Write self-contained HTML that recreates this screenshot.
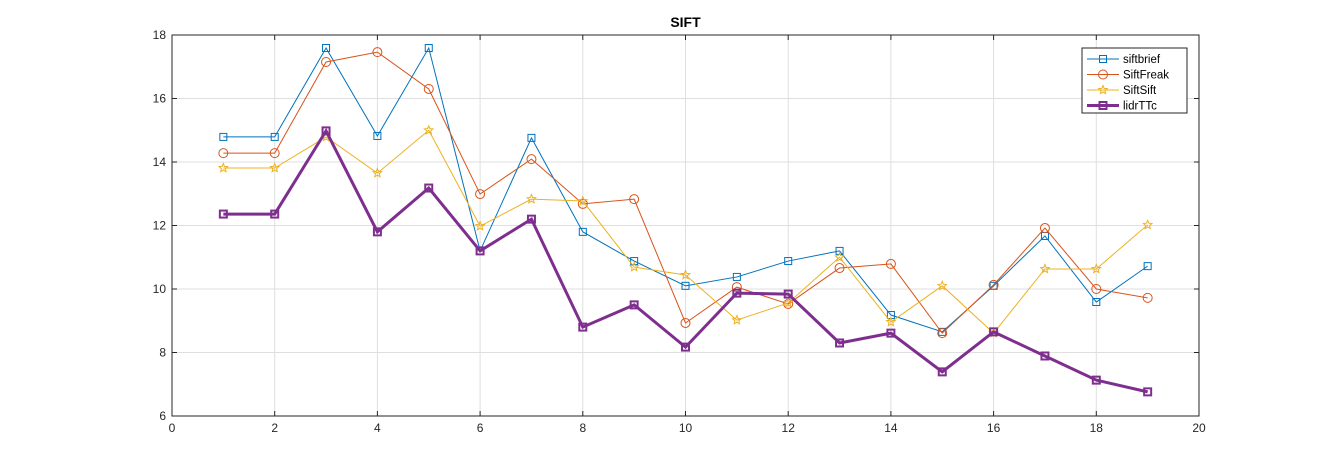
<!DOCTYPE html>
<html><head><meta charset="utf-8"><style>
body{margin:0;background:#fff;}
svg{display:block;font-family:"Liberation Sans","DejaVu Sans",sans-serif;}
</style></head><body>
<svg id="chart" width="1326" height="468" viewBox="0 0 1326 468">
<rect width="1326" height="468" fill="#fff"/>
<g id="grid"></g><g id="axes"></g><g id="series"></g><g id="legend"></g>
</svg>
<script>
const xs=[1,2,3,4,5,6,7,8,9,10,11,12,13,14,15,16,17,18,19];
const siftbrief=[14.79,14.79,17.59,14.82,17.59,11.2,14.76,11.8,10.88,10.1,10.38,10.88,11.2,9.18,8.65,10.1,11.67,9.59,10.72];
const siftFreak=[14.28,14.28,17.15,17.46,16.3,12.99,14.09,12.68,12.83,8.93,10.06,9.53,10.66,10.79,8.61,10.13,11.92,10.0,9.72];
const siftSift=[13.81,13.81,14.79,13.65,15.0,11.98,12.83,12.77,10.69,10.44,9.02,9.56,11.0,8.96,10.1,8.61,10.63,10.63,12.02];
const lidrTTc=[12.36,12.36,14.98,11.8,13.18,11.2,12.2,8.8,9.5,8.17,9.87,9.84,8.3,8.61,7.39,8.65,7.89,7.13,6.76];
const xTicks=[0,2,4,6,8,10,12,14,16,18,20];
const yTicks=[6,8,10,12,14,16,18];
const seriesNames=["siftbrief","SiftFreak","SiftSift","lidrTTc"];
const L=172,R=1199,T=35,B=416;
const X=v=>L+(v-0)/20*(R-L);
const Y=v=>B-(v-6)/12*(B-T);
const NS="http://www.w3.org/2000/svg";
function mk(tag,attrs,parent){const e=document.createElementNS(NS,tag);for(const k in attrs)e.setAttribute(k,attrs[k]);parent.appendChild(e);return e;}
const grid=document.getElementById('grid'),axes=document.getElementById('axes'),ser=document.getElementById('series'),leg=document.getElementById('legend');
xTicks.forEach(t=>{
 const g=mk('line',{x1:X(t),x2:X(t),y1:T,y2:B,stroke:'#dfdfdf','stroke-width':1},grid);
 
 
 mk('line',{x1:X(t),x2:X(t),y1:B,y2:B-5,stroke:'#262626'},axes);
 mk('line',{x1:X(t),x2:X(t),y1:T,y2:T+5,stroke:'#262626'},axes);
 const tx=mk('text',{x:X(t),y:B+16,'text-anchor':'middle','font-size':12,fill:'#262626'},axes);tx.textContent=t;
 
 
});
yTicks.forEach(t=>{
 const g=mk('line',{x1:L,x2:R,y1:Y(t),y2:Y(t),stroke:'#dfdfdf','stroke-width':1},grid);
 
 
 mk('line',{x1:L,x2:L+5,y1:Y(t),y2:Y(t),stroke:'#262626'},axes);
 mk('line',{x1:R,x2:R-5,y1:Y(t),y2:Y(t),stroke:'#262626'},axes);
 const tx=mk('text',{x:L-6,y:Y(t)+4,'text-anchor':'end','font-size':12,fill:'#262626'},axes);tx.textContent=t;
 
 
});
const box=mk('rect',{x:L,y:T,width:R-L,height:B-T,fill:'none',stroke:'#262626','stroke-width':1},axes);


const title=mk('text',{x:(L+R)/2,y:27,'text-anchor':'middle','font-size':14,'font-weight':'bold',fill:'#000'},axes);title.textContent='SIFT';


function marker(type,x,y,color,sw,p){
 if(type==='sq')return mk('rect',{x:x-3.5,y:y-3.5,width:7,height:7,fill:'none',stroke:color,'stroke-width':sw},p);
 if(type==='ci')return mk('circle',{cx:x,cy:y,r:4.5,fill:'none',stroke:color,'stroke-width':sw},p);
 let pts=[];for(let i=0;i<10;i++){const r=i%2?2:4.5,a=-Math.PI/2+i*Math.PI/5;pts.push((x+r*Math.cos(a)).toFixed(1)+','+(y+r*Math.sin(a)).toFixed(1));}
 return mk('polygon',{points:pts.join(' '),fill:'none',stroke:color,'stroke-width':sw},p);
}
const defs=[[siftbrief,'#0072bd','sq',1],[siftFreak,'#d95319','ci',1],[siftSift,'#edb120','st',1],[lidrTTc,'#7e2f8e','sq',3]];
defs.forEach((d,i)=>{
 const g=mk('g',{},ser);
 
 
 mk('polyline',{points:xs.map((x,j)=>X(x)+','+Y(d[0][j])).join(' '),fill:'none',stroke:d[1],'stroke-width':d[3]},g);
 xs.forEach((x,j)=>{const m=marker(d[2],X(x),Y(d[0][j]),d[1],d[3]===3?2:1,g);
  
  });
});
const lb=mk('rect',{x:1082,y:48,width:105,height:65,fill:'#fff',stroke:'#262626','stroke-width':1},leg);


defs.forEach((d,i)=>{
 const y=59+i*15.5;
 const g=mk('g',{},leg);
 
 
 mk('line',{x1:1087,x2:1119,y1:y,y2:y,stroke:d[1],'stroke-width':d[3]},g);
 marker(d[2],1103,y,d[1],d[3]===3?2:1,g);
 const t=mk('text',{x:1123,y:y+4,'font-size':11.5,fill:'#000'},g);t.textContent=seriesNames[i];
});
</script>
</body></html>
